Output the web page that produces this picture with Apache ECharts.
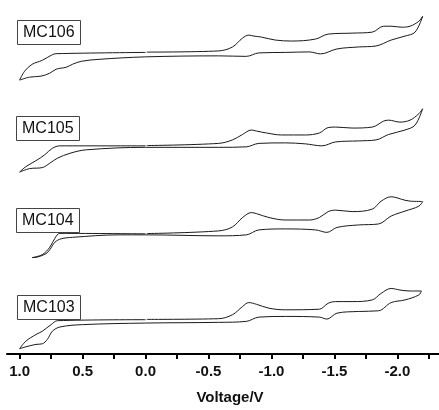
<!DOCTYPE html>
<html>
<head>
<meta charset="utf-8">
<script src="https://cdn.jsdelivr.net/npm/echarts@6/dist/echarts.min.js"></script>
<style>
  html, body { margin: 0; padding: 0; background: #fff; }
  #chart { width: 439px; height: 410px; }
</style>
</head>
<body>
<div id="chart"></div>
<script>
(function() {
  // sample names, top to bottom
  var names = ['MC106', 'MC105', 'MC104', 'MC103'];
  // vertical stacking offset of each voltammogram (arbitrary current units)
  var offsets = [305, 210.5, 121.5, 34.7];

  // tick positions (V) and labelled values
  var tickValues = [1.0, 0.75, 0.5, 0.25, 0.0, -0.25, -0.5, -0.75, -1.0, -1.25, -1.5, -1.75, -2.0, -2.25];
  var labelValues = [1.0, 0.5, 0.0, -0.5, -1.0, -1.5, -2.0];

  // [potential V, current a.u.] — one closed sweep each, starting at 0 V
  var mc106 = [
    [0.0, 0], [0.71, -1.3], [0.74, -2.3], [0.82, -8], [0.90, -12], [0.96, -19], [1.0, -28],
    [0.92, -25], [0.83, -24], [0.76, -21], [0.71, -17], [0.63, -15], [0.58, -12], [0.51, -9],
    [0.37, -7], [0.0, -4.5], [-0.58, -3.5], [-0.80, -4], [-0.90, -0.5], [-1.11, 0], [-1.30, 0.5],
    [-1.39, -1.5], [-1.52, 3.5], [-1.69, 5.5], [-1.83, 6.5], [-1.95, 12.5], [-2.06, 16.5],
    [-2.14, 20.5], [-2.20, 36.5],
    [-2.17, 31.5], [-2.10, 26.5], [-2.03, 25.5], [-1.95, 26.5], [-1.89, 26.5], [-1.80, 20.5],
    [-1.64, 19.5], [-1.45, 18.5], [-1.35, 13.5], [-1.16, 11.5], [-1.03, 12.5], [-0.92, 15.5],
    [-0.86, 16.5], [-0.82, 17.5], [-0.77, 14.5], [-0.69, 5.5], [-0.58, 1.5], [-0.01, 0.3]
  ];
  var mc105 = [
    [0.0, 0], [0.68, 0], [0.74, -2.5], [0.80, -9], [0.87, -15], [0.95, -21], [1.0, -26.5],
    [0.92, -23], [0.82, -22], [0.76, -17.5], [0.70, -12.5], [0.60, -7.5], [0.47, -4],
    [0.0, -1.5], [-0.58, -1.5], [-0.80, -1], [-0.90, 2.5], [-1.11, 3], [-1.27, 2], [-1.40, 0],
    [-1.51, 4], [-1.69, 5], [-1.83, 6], [-1.93, 11.5], [-2.06, 16], [-2.14, 21], [-2.20, 37.5],
    [-2.17, 32.5], [-2.10, 26], [-2.02, 24], [-1.93, 26], [-1.89, 25], [-1.80, 19], [-1.64, 18],
    [-1.51, 19], [-1.45, 18.5], [-1.38, 13], [-1.27, 11], [-1.08, 11], [-0.96, 13], [-0.88, 15],
    [-0.84, 16], [-0.77, 11.5], [-0.69, 6], [-0.58, 2.5], [-0.01, 0.3]
  ];
  var mc104 = [
    [0.0, 0], [0.68, 0.5], [0.72, -4.5], [0.76, -13.5], [0.82, -21], [0.90, -24],
    [0.86, -23.5], [0.79, -20], [0.76, -16], [0.72, -8.5], [0.67, -5], [0.58, -3.5],
    [0.21, -1], [0.0, -1], [-0.58, -2], [-0.80, -1], [-0.90, 4], [-1.11, 5], [-1.35, 4],
    [-1.44, 1.5], [-1.52, 6.5], [-1.69, 9], [-1.85, 10], [-1.95, 18], [-2.06, 23], [-2.17, 28],
    [-2.20, 32.5],
    [-2.11, 33], [-2.06, 34], [-1.95, 37.5], [-1.87, 33], [-1.80, 25], [-1.64, 22.5],
    [-1.51, 24], [-1.45, 22.5], [-1.38, 16.5], [-1.30, 14], [-1.11, 14], [-0.98, 16.5],
    [-0.88, 20.5], [-0.84, 21.5], [-0.77, 16.5], [-0.69, 7], [-0.58, 3], [-0.01, 0.3]
  ];
  var mc103 = [
    [0.0, 0], [0.70, -1], [0.75, -5], [0.82, -11.7], [0.87, -15], [0.95, -21.7], [1.0, -29.4],
    [0.95, -27.4], [0.87, -25], [0.82, -24.4], [0.78, -20], [0.74, -11.7], [0.68, -7.4],
    [0.50, -5], [0.0, -3.4], [-0.58, -2.7], [-0.80, -1.7], [-0.90, 2.6], [-1.11, 3.3],
    [-1.38, 2.6], [-1.44, 0.6], [-1.52, 6.6], [-1.69, 8.3], [-1.85, 9], [-1.95, 17.3],
    [-2.06, 20], [-2.17, 25], [-2.19, 29],
    [-2.10, 29], [-2.02, 30], [-1.95, 31.6], [-1.87, 26.6], [-1.80, 20], [-1.64, 18.3],
    [-1.51, 18.3], [-1.45, 16.6], [-1.38, 10.6], [-1.11, 10], [-0.98, 11.6], [-0.88, 15.6],
    [-0.82, 17.3], [-0.77, 13.3], [-0.69, 5], [-0.58, 1], [-0.01, 0.3]
  ];
  var curves = [mc106, mc105, mc104, mc103];

  var ink = '#111';
  var font = 'Arial, "Liberation Sans", sans-serif';
  var labelBoxes = [[17, 20], [16, 116], [16, 208], [17, 295]];

  var chart = echarts.init(document.getElementById('chart'), null, { renderer: 'canvas' });
  chart.setOption({
    animation: false,
    backgroundColor: '#fff',
    title: names.map(function(n, i) {
      return {
        text: n,
        left: labelBoxes[i][0],
        top: labelBoxes[i][1],
        padding: [5, 6, 4, 6],
        borderColor: '#444',
        borderWidth: 1,
        textStyle: { color: ink, fontSize: 16, fontWeight: 'normal', fontFamily: font }
      };
    }),
    grid: { left: 7, right: 0, top: 0, bottom: 52 },
    xAxis: {
      type: 'value',
      inverse: true,
      min: -2.33,
      max: 1.1,
      name: 'Voltage/V',
      nameLocation: 'middle',
      nameGap: 36,
      nameTextStyle: { color: ink, fontSize: 15, fontWeight: 'bold', fontFamily: font, padding: [0, 0, 0, 14] },
      axisLine: { onZero: false, lineStyle: { color: '#000', width: 2 } },
      axisTick: { customValues: tickValues, length: 5, lineStyle: { color: '#000', width: 2 } },
      axisLabel: {
        customValues: labelValues,
        margin: 10,
        color: ink,
        fontSize: 15,
        fontWeight: 'bold',
        fontFamily: font,
        formatter: function(v) { return v.toFixed(1); }
      },
      splitLine: { show: false }
    },
    yAxis: {
      type: 'value',
      min: 0,
      max: 358,
      show: false
    },
    series: curves.map(function(c, i) {
      return {
        name: names[i],
        type: 'line',
        data: c.map(function(p) { return [p[0], p[1] + offsets[i]]; }),
        smooth: 0.35,
        showSymbol: false,
        lineStyle: { color: '#1a1a1a', width: 1 }
      };
    })
  });
})();
</script>
</body>
</html>
